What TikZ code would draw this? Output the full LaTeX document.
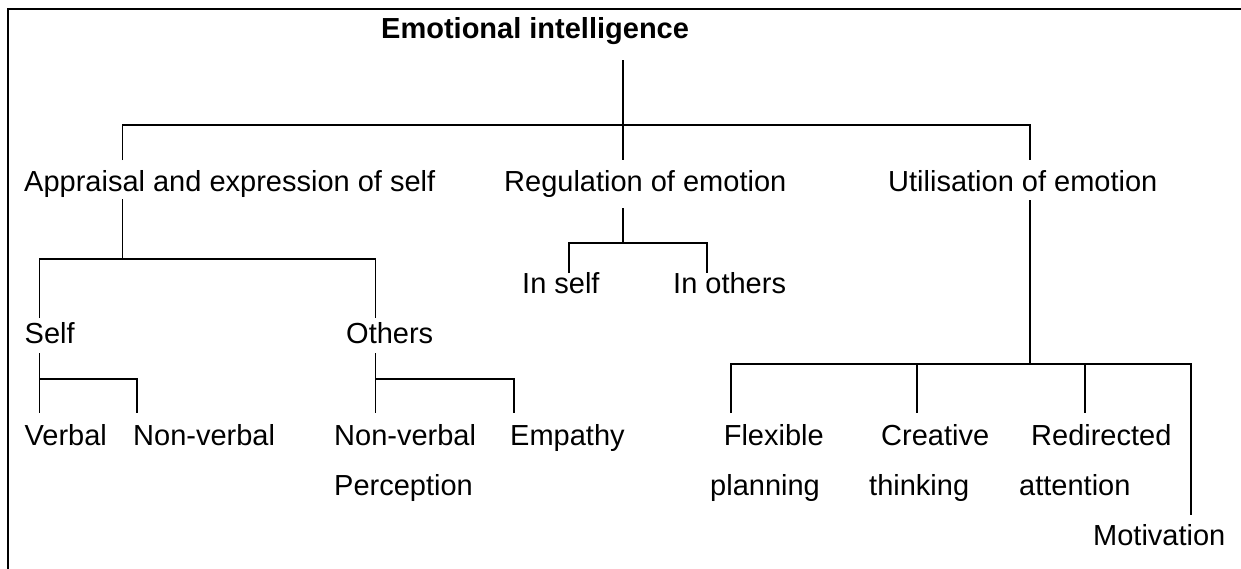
\documentclass[tikz,border=0pt]{standalone}
\usepackage{fontspec}
\setmainfont{Liberation Sans}
\usetikzlibrary{positioning}

\begin{document}
\begin{tikzpicture}[x=1pt,y=-1pt,
        Lbl/.style={anchor=base west,inner sep=0pt,align=left,font=\fontsize{29}{50}\selectfont},
        Wire/.style={line width=1.2pt},
        Frame/.style={line width=2pt}
    ]
    \useasboundingbox (0,0) rectangle (1241,568);
    \draw[Frame] (8,9) rectangle (1270,600);
    
    %title
    \node[Lbl,font=\fontsize{29}{35}\selectfont\bfseries] (EI) at (381,38) {Emotional intelligence};
    
    %first level
    \node[Lbl] (App) at (24,191) {Appraisal and expression of self};
    \node[Lbl] (Reg) at (504,191) {Regulation of emotion};
    \node[Lbl] (Uti) at (888,191) {Utilisation of emotion};
    
    %regulation
    \node[Lbl] (InSelf) at (522,293) {In self};
    \node[Lbl] (InOth) at (673,293) {In others};
    
    %appraisal
    \node[Lbl] (Self) at (24.5,343) {Self};
    \node[Lbl] (Oth) at (346,343) {Others};
    \node[Lbl] (Verb) at (24.5,445) {Verbal};
    \node[Lbl] (NonVerb) at (133,445) {Non-verbal};
    \node[Lbl] (NvPerc) at (334,495) {Non-verbal\\Perception};
    \node[Lbl] (Emp) at (510,445) {Empathy};
    
    %utilisation (two-line labels sit on their last baseline)
    \node[Lbl] (Flex) at (710,495) {\hspace*{13.6pt}Flexible\\planning};
    \node[Lbl] (Creat) at (869,495) {\hspace*{12pt}Creative\\thinking};
    \node[Lbl] (Redir) at (1019,495) {\hspace*{12pt}Redirected\\attention};
    \node[Lbl] (Motiv) at (1093,545) {Motivation};
    
    %connections
    \draw[Wire] (623,60)coordinate (EIt)--(623,160)coordinate (RegT);
    \draw[Wire] (122.5,160)coordinate (AppT)|-(EIt|-0,125)coordinate (EIj)-|(1030,160)coordinate (UtiT);
    \draw[Wire] (122.5,199)coordinate (AppB)--(122.5,259)coordinate (AppJ);
    \draw[Wire] (39.5,318)coordinate (SelfT)|-(AppJ)-|(375.5,318)coordinate (OthT);
    \draw[Wire] (623,208)coordinate (RegB)--(623,243)coordinate (RegJ);
    \draw[Wire] (569,273)coordinate (InSelfT)|-(RegJ)-|(707,273)coordinate (InOthT);
    \draw[Wire] (39.5,353)coordinate (SelfB)--(39.5,413)coordinate (VerbT);
    \draw[Wire] (SelfB|-0,379)coordinate (SelfJ)-|(137,413)coordinate (NonVerbT);
    \draw[Wire] (375.5,353)coordinate (OthB)--(375.5,413)coordinate (NvPercT);
    \draw[Wire] (OthB|-0,379)coordinate (OthJ)-|(514,413)coordinate (EmpT);
    \draw[Wire] (1030,200)coordinate (UtiB)--(1030,364)coordinate (UtiJ);
    \draw[Wire] (731,413)coordinate (FlexT)|-(UtiJ)-|(1191,515)coordinate (MotivT);
    \draw[Wire] (917,364)--(917,413)coordinate (CreatT);
    \draw[Wire] (1085,364)--(1085,413)coordinate (RedirT);
    
\end{tikzpicture}
\end{document}
